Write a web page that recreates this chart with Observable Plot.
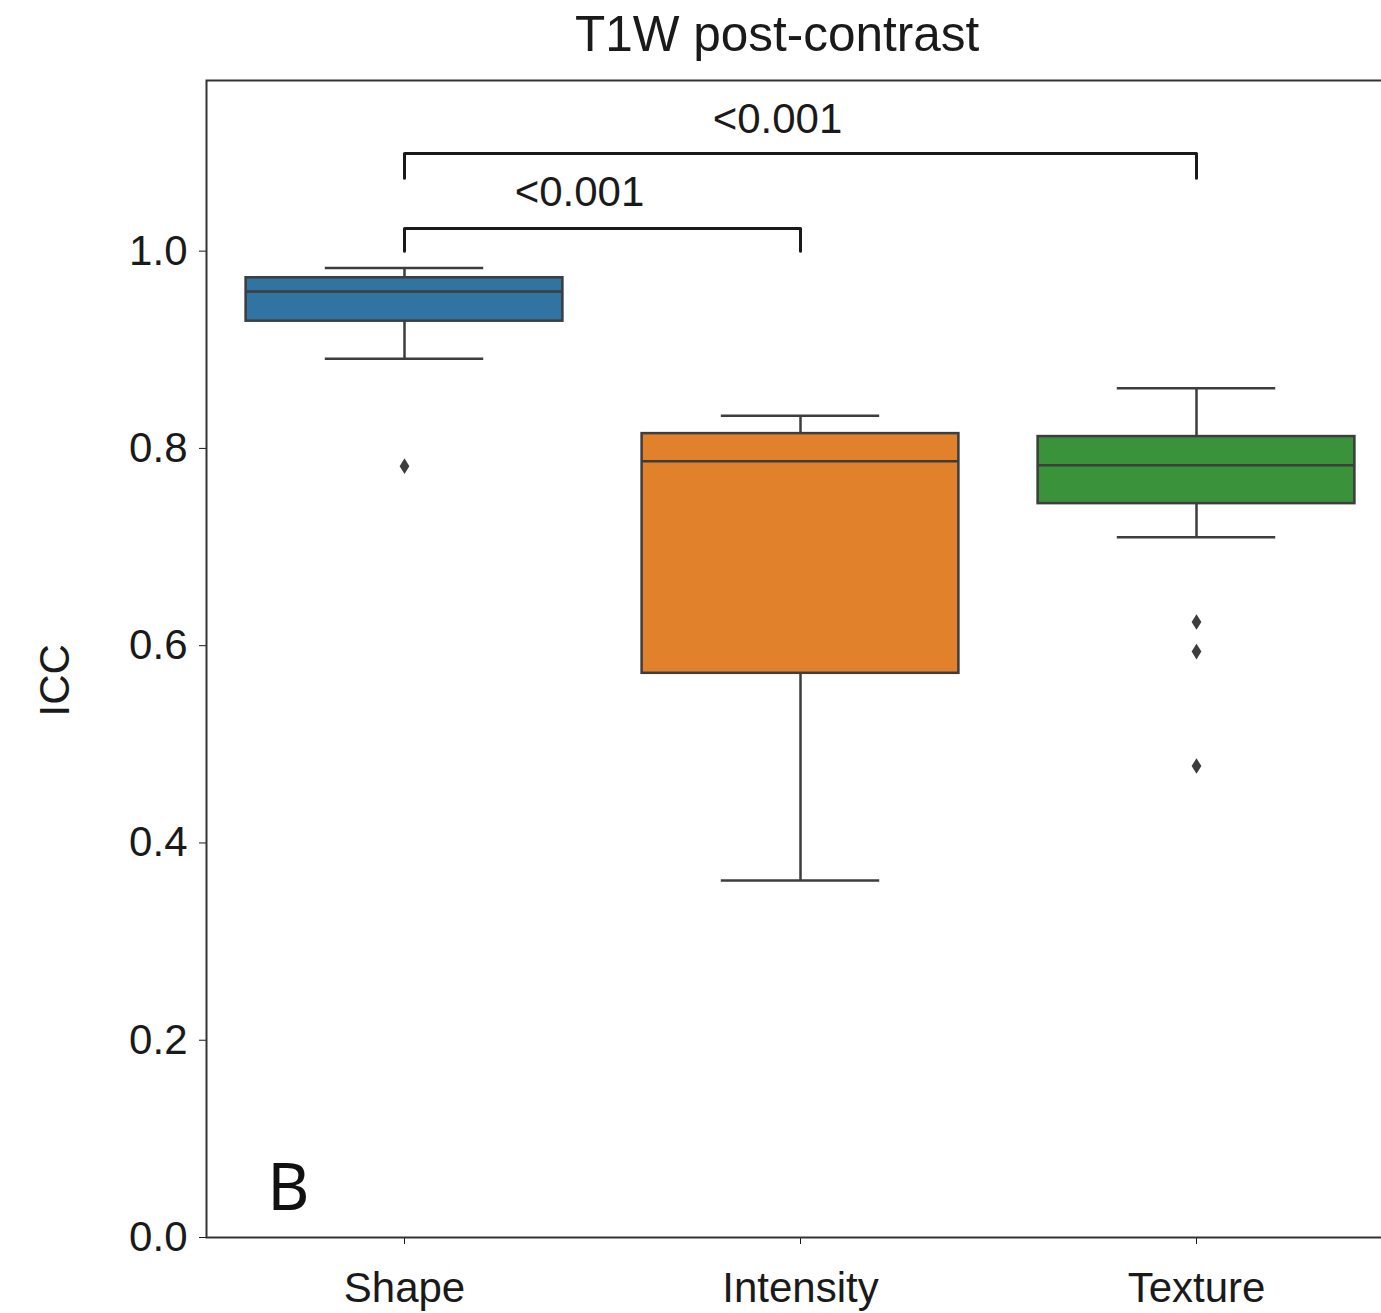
<!DOCTYPE html>
<html>
<head>
<meta charset="utf-8">
<script src="https://cdn.jsdelivr.net/npm/d3@7"></script>
<script src="https://cdn.jsdelivr.net/npm/@observablehq/plot@0.6"></script>
<style>
  html, body { margin: 0; padding: 0; background: #fff; }
  #chart { width: 1381px; height: 1313px; overflow: hidden; }
  #chart svg { max-width: none !important; }
</style>
</head>
<body>
<div id="chart"></div>
<script>
// ---- data ----
const categories = ["Shape", "Intensity", "Texture"];
const whiskerLow  = [0.891, 0.362, 0.710];
const q1          = [0.929, 0.572, 0.744];
const median      = [0.959, 0.787, 0.783];
const q3          = [0.973, 0.815, 0.812];
const whiskerHigh = [0.983, 0.833, 0.861];
const outlierGroup = ["Shape", "Texture", "Texture", "Texture"];
const outlierValue = [0.782, 0.624, 0.594, 0.478];
const boxColors = ["#3274a1", "#e1812c", "#3a923a"];
const yTicks = [0.0, 0.2, 0.4, 0.6, 0.8, 1.0];
const bracketFrom = ["Shape", "Shape"];
const bracketTo = ["Intensity", "Texture"];
const bracketTop = [1.023, 1.099];
const bracketLegEnd = [1.0, 1.074];
const pLabels = ["<0.001", "<0.001"];
const pLabelY = [1.059, 1.133];
const titleText = "T1W post-contrast";
const yLabel = "ICC";
const panelLetter = "B";

// ---- derived tables ----
const idx = c => categories.indexOf(c);
const boxes = categories.map((c, i) => ({
  cat: c, i, lo: whiskerLow[i], q1: q1[i], med: median[i], q3: q3[i], hi: whiskerHigh[i]
}));
const outliers = outlierGroup.map((c, k) => ({cat: c, i: idx(c), v: outlierValue[k]}));
const bracketPts = [];
bracketFrom.forEach((f, k) => {
  const a = idx(f), b = idx(bracketTo[k]);
  bracketPts.push({k, x: a, y: bracketLegEnd[k]});
  bracketPts.push({k, x: a, y: bracketTop[k]});
  bracketPts.push({k, x: b, y: bracketTop[k]});
  bracketPts.push({k, x: b, y: bracketLegEnd[k]});
});
const bracketLabels = pLabels.map((t, k) => ({
  t, x: (idx(bracketFrom[k]) + idx(bracketTo[k])) / 2, y: pLabelY[k]
}));

const thinDiamond = {
  draw(context, size) {
    const h = Math.sqrt(size);
    context.moveTo(0, -h * 0.8);
    context.lineTo(h * 0.5, 0);
    context.lineTo(0, h * 0.8);
    context.lineTo(-h * 0.5, 0);
    context.closePath();
  }
};

const edge = "#3d3d3d";
const HALF = 0.4, CAP = 0.2;

const chart = Plot.plot({
  width: 1400,
  height: 1313,
  marginLeft: 206,
  marginRight: 6,
  marginTop: 80,
  marginBottom: 76,
  style: {fontFamily: "'Liberation Sans', Arial, sans-serif", fontSize: "42px", color: "#1a1a1a", background: "#fff", maxWidth: "none"},
  x: {
    type: "linear", domain: [-0.5, 2.5], ticks: [0, 1, 2],
    tickFormat: i => categories[i], tickSize: 7, tickPadding: 28, label: null
  },
  y: {
    domain: [0, 1.173], ticks: yTicks, tickFormat: d3.format(".1f"),
    tickSize: 7, tickPadding: 12, label: null
  },
  color: {domain: categories, range: boxColors},
  marks: [
    // whiskers
    Plot.ruleX(boxes, {x: "i", y1: "q3", y2: "hi", stroke: edge, strokeWidth: 2.5}),
    Plot.ruleX(boxes, {x: "i", y1: "lo", y2: "q1", stroke: edge, strokeWidth: 2.5}),
    Plot.ruleY(boxes, {y: "hi", x1: d => d.i - CAP, x2: d => d.i + CAP, stroke: edge, strokeWidth: 2.5}),
    Plot.ruleY(boxes, {y: "lo", x1: d => d.i - CAP, x2: d => d.i + CAP, stroke: edge, strokeWidth: 2.5}),
    // boxes
    Plot.rect(boxes, {x1: d => d.i - HALF, x2: d => d.i + HALF, y1: "q1", y2: "q3", fill: "cat", stroke: edge, strokeWidth: 2.5}),
    Plot.ruleY(boxes, {y: "med", x1: d => d.i - HALF, x2: d => d.i + HALF, stroke: edge, strokeWidth: 2.5}),
    // outliers
    Plot.dot(outliers, {x: "i", y: "v", r: 5.5, symbol: thinDiamond, fill: edge, stroke: "none"}),
    // significance brackets
    Plot.line(bracketPts, {x: "x", y: "y", z: "k", stroke: "#1a1a1a", strokeWidth: 3, curve: "linear"}),
    Plot.text(bracketLabels, {x: "x", y: "y", text: "t", dx: -23, fontSize: 42, fill: "#1a1a1a"}),
    // frame
    Plot.frame({stroke: "#333", strokeWidth: 2}),
    // title, y label, panel letter
    Plot.text([titleText], {x: [0.941], y: [1.2186], text: d => d, fontSize: 49.5, fill: "#1a1a1a"}),
    Plot.text([yLabel], {x: [-0.880], y: [0.565], text: d => d, rotate: -90, fontSize: 42, fill: "#1a1a1a"}),
    Plot.text([panelLetter], {x: [-0.293], y: [0.049], text: d => d, fontSize: 65, fontFamily: "'Noto Sans', 'DejaVu Sans', sans-serif", fill: "#111"})
  ]
});
document.getElementById("chart").appendChild(chart);
</script>
</body>
</html>
